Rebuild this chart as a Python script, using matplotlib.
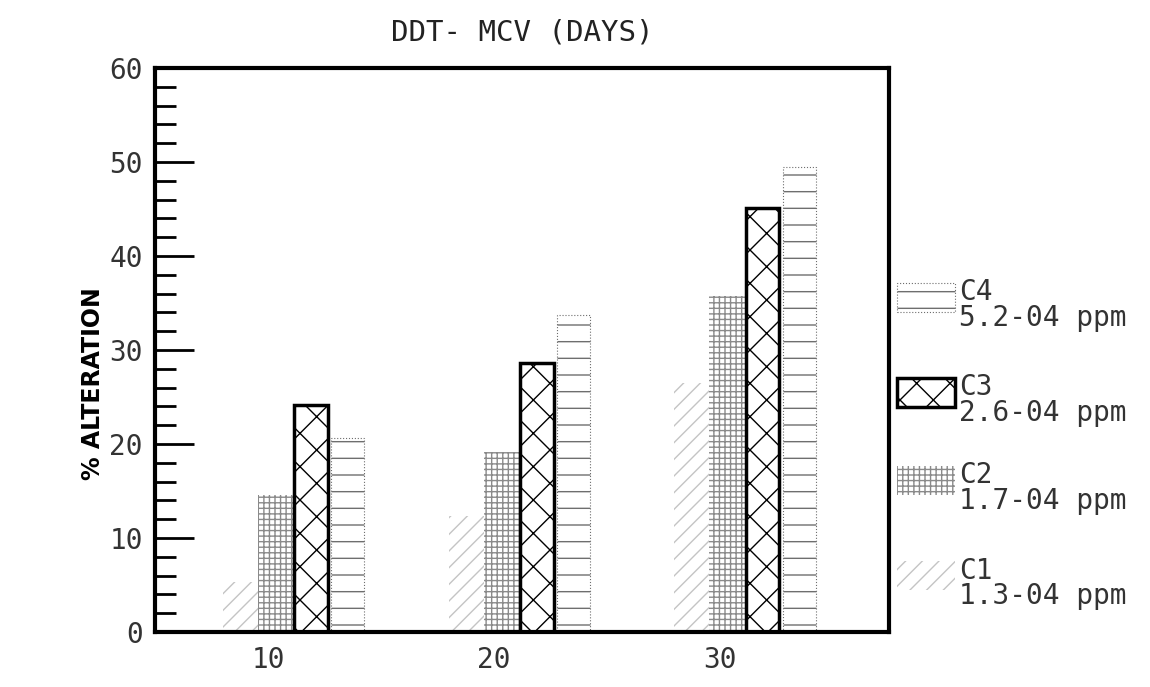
import numpy as np
import matplotlib
matplotlib.use('Agg')
import matplotlib.pyplot as plt
from matplotlib.patches import Rectangle
from matplotlib.ticker import MultipleLocator

# days on the x axis and % alteration per concentration
days = [10, 20, 30]
c1 = [5.3, 12.3, 26.5]
c2 = [14.6, 19.2, 35.7]
c3 = [24.1, 28.6, 45.1]
c4 = [20.6, 33.7, 49.5]
series_names = ['C1', 'C2', 'C3', 'C4']
concentrations = ['1.3-04 ppm', '1.7-04 ppm', '2.6-04 ppm', '5.2-04 ppm']
y_ticks = [0, 10, 20, 30, 40, 50, 60]

plt.rcParams['hatch.linewidth'] = 1.0
tick_font = {'family': 'DejaVu Sans Mono', 'size': 20, 'color': '#333333'}

fig = plt.figure(figsize=(11.5, 6.87), dpi=100)
ax = fig.add_axes([0.135, 0.080, 0.638, 0.821])

styles = [
    dict(hatch='//', edgecolor='#c4c4c4', linewidth=0),
    dict(hatch='+++', edgecolor='#8a8a8a', linewidth=0),
    dict(hatch='x', edgecolor='black', linewidth=2.5),
    dict(hatch='-', edgecolor='#6e6e6e', linewidth=0.8, linestyle=':'),
]
lefts = [-2.0, -0.45, 1.15, 2.8]
widths = [1.55, 1.6, 1.5, 1.45]

x = np.array(days, dtype=float)
for vals, off, w, st in zip([c1, c2, c3, c4], lefts, widths, styles):
    ax.bar(x + off, vals, width=w, align='edge', facecolor='white', **st)

ax.set_xlim(5, 37.5)
ax.set_ylim(0, 60)
ax.set_xticks(days)
ax.set_xticklabels([str(d) for d in days], fontdict=tick_font)
ax.set_yticks(y_ticks)
ax.set_yticklabels([str(v) for v in y_ticks], fontdict=tick_font)
ax.yaxis.set_minor_locator(MultipleLocator(2))
ax.tick_params(axis='y', which='major', direction='in', length=28, width=2, pad=9)
ax.tick_params(axis='y', which='minor', direction='in', length=15, width=2)
ax.tick_params(axis='x', length=0, pad=10)
for sp in ax.spines.values():
    sp.set_linewidth(3)

ax.set_title('DDT- MCV (DAYS)', fontdict={'family': 'DejaVu Sans Mono', 'size': 21, 'color': '#222222'}, pad=20)
ax.set_ylabel('% ALTERATION', fontsize=17, fontweight='bold')
ax.yaxis.set_label_coords(-0.068, 0.44)

# legend drawn at the right, top to bottom C4..C1
legend_y = [0.567, 0.399, 0.243, 0.074]
for i, k in enumerate([3, 2, 1, 0]):
    y0 = legend_y[i]
    ax.add_patch(Rectangle((1.011, y0), 0.079, 0.052, transform=ax.transAxes,
                           clip_on=False, facecolor='white', **styles[k]))
    ax.text(1.095, y0 + 0.035, series_names[k], transform=ax.transAxes,
            va='center', ha='left', **tick_font)
    ax.text(1.095, y0 - 0.010, concentrations[k], transform=ax.transAxes,
            va='center', ha='left', **tick_font)

plt.savefig('out.png', dpi=100)
